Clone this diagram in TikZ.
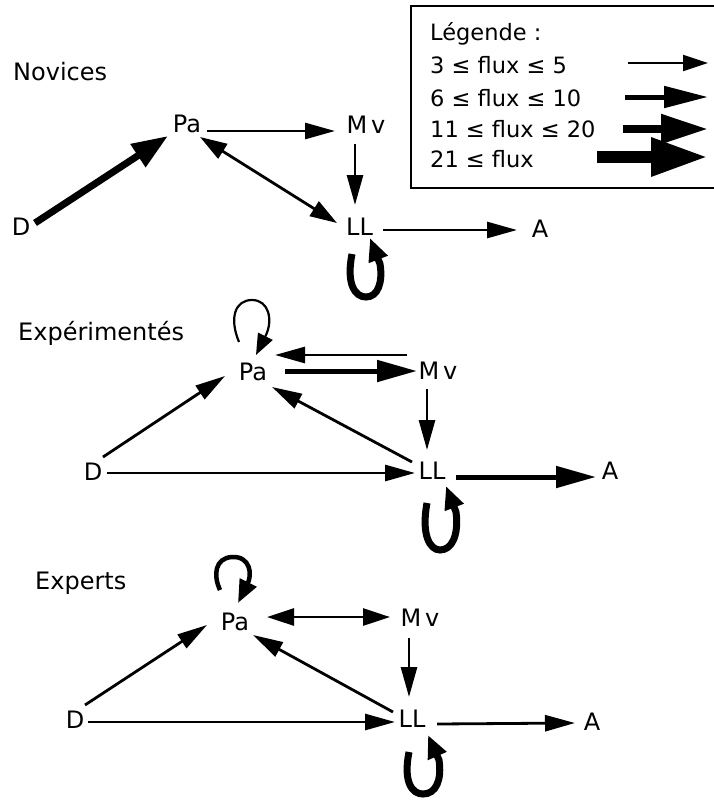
\documentclass[tikz,border=0pt]{standalone}
\usepackage{fontspec}
\setmainfont{DejaVu Sans}
\usetikzlibrary{arrows.meta,calc}
\begin{document}
\begin{tikzpicture}[x=1pt,y=-1pt,
  lbl/.style={inner sep=0pt,anchor=west,font=\fontsize{24}{28}\selectfont},
  nd/.style={inner sep=0pt,font=\fontsize{24}{28}\selectfont},
  leg/.style={inner sep=0pt,anchor=west,font=\fontsize{22.5}{27}\selectfont},
  aone/.style={line width=2.8pt,-{Triangle[length=30pt,width=16pt]}},
  abone/.style={line width=2.8pt,{Triangle[length=27pt,width=17pt]}-{Triangle[length=27pt,width=17pt]}},
  atwo/.style={line width=5pt,-{Triangle[length=40pt,width=21pt]}},
  athree/.style={line width=7pt,-{Triangle[length=36pt,width=26pt]}},
  loopthick/.style={line width=7pt,line cap=butt,-{Triangle[length=23pt,width=19pt]}},
  loopmid/.style={line width=4.5pt,-{Triangle[length=23pt,width=18pt]}},
  loopthin/.style={line width=2.2pt,-{Triangle[length=21pt,width=16pt]}},
  legone/.style={line width=2.2pt,-{Triangle[length=25pt,width=16pt]}},
  legtwo/.style={line width=5pt,-{Triangle[length=44pt,width=21pt]}},
  legthree/.style={line width=8pt,-{Triangle[length=47pt,width=28pt]}},
  legfour/.style={line width=12pt,-{Triangle[length=57pt,width=36pt]}}
]
\useasboundingbox (0,0) rectangle (713,800);
\fill[white] (0,0) rectangle (713,800);

% ---------- Legend ----------
\draw[line width=2pt] (714,6) -- (411,6) -- (411,188) -- (714,188);
\node[leg] (lg0) at (430,34) {Légende :};
\node[leg] (lg1) at (430,65) {3 ≤ flux ≤ 5};
\node[leg] (lg2) at (430,98) {6 ≤ flux ≤ 10};
\node[leg] (lg3) at (430,129) {11 ≤ flux ≤ 20};
\node[leg] (lg4) at (430,159) {21 ≤ flux};
\draw[legone] (628,63) -- (708,63);
\draw[legtwo] (625,97) -- (708,97);
\draw[legthree] (623,129) -- (708,129);
\draw[legfour] (597,157) -- (708,157);

% ---------- Novices ----------
\node[lbl] (labN) at (13,71.5) {Novices};
\node[nd] (paN) at (187,124) {Pa};
\node[nd] (mvN) at (366,125) {M\kern4pt v};
\node[nd] (dN) at (21,227) {D};
\node[nd] (llN) at (359.5,227) {LL};
\node[nd] (aN) at (540,229) {A};
\draw[athree] ($(dN)+(14,-4)$) -- ($(paN)+(-19,12)$);
\draw[aone] ($(paN)+(20,7)$) -- ($(mvN)+(-31,6)$);
\draw[abone] ($(paN)+(13,13)$) -- ($(llN)+(-22.5,-4)$);
\draw[aone] ($(mvN)+(-11,19)$) -- ($(llN)+(-4.5,-22)$);
\draw[aone] ($(llN)+(23.5,3)$) -- ($(aN)+(-23,1)$);
\begin{scope}[shift={(llN)}]
\draw[loopthick] (-7.5,27) .. controls (-13.5,57) and (-4.5,70) .. (6.5,70)
  .. controls (18.5,70) and (23.5,55) .. (20.5,37) -- (10.5,11);
\end{scope}

% ---------- Expérimentés ----------
\node[lbl] (labE) at (18,333) {Expérimentés};
\node[nd] (paE) at (253,372) {Pa};
\node[nd] (mvE) at (438,371) {M\kern4pt v};
\node[nd] (dE) at (93,472) {D};
\node[nd] (llE) at (432,471) {LL};
\node[nd] (aE) at (610,471) {A};
\begin{scope}[shift={(paE)}]
\draw[loopthin] (-14,-30) .. controls (-24,-54) and (-18,-72) .. (-1,-72)
  .. controls (16,-72) and (20,-52) .. (13,-37) -- (3,-17);
\end{scope}
\draw[aone] ($(mvE)+(-31,-16)$) -- ($(paE)+(22,-17)$);
\draw[atwo] ($(paE)+(32,-1)$) -- ($(mvE)+(-21,0)$);
\draw[aone] ($(dE)+(10,-15)$) -- ($(paE)+(-28,4)$);
\draw[aone] ($(llE)+(-20,-9)$) -- ($(paE)+(19,15)$);
\draw[aone] ($(dE)+(14,1)$) -- ($(llE)+(-17,2)$);
\draw[aone] ($(mvE)+(-11,18)$) -- ($(llE)+(-5,-21)$);
\draw[atwo] ($(llE)+(24,6)$) -- ($(aE)+(-14,6)$);
\begin{scope}[shift={(llE)}]
\draw[loopthick] (-5,32) .. controls (-11,64) and (-2,79) .. (8,79)
  .. controls (20,79) and (27,64) .. (24,41) -- (14,15);
\end{scope}

% ---------- Experts ----------
\node[lbl] (labX) at (35,583) {Experts};
\node[nd] (paX) at (235,622) {Pa};
\node[nd] (mvX) at (420,618) {M\kern4pt v};
\node[nd] (dX) at (75,720) {D};
\node[nd] (llX) at (412,719) {LL};
\node[nd] (aX) at (592,722) {A};
\begin{scope}[shift={(paX)}]
\draw[loopmid] (-15,-32) .. controls (-22,-47) and (-20,-64) .. (-3,-65)
  .. controls (15,-66) and (18,-48) .. (12,-37) -- (3,-19);
\end{scope}
\draw[abone] ($(paX)+(32,-5)$) -- ($(mvX)+(-30,-1)$);
\draw[aone] ($(mvX)+(-11,20)$) -- ($(llX)+(-3,-22)$);
\draw[aone] ($(llX)+(25,5)$) -- ($(aX)+(-17,1)$);
\draw[aone] ($(dX)+(13,2)$) -- ($(llX)+(-17,3)$);
\draw[aone] ($(dX)+(10,-15)$) -- ($(paX)+(-28,3)$);
\draw[aone] ($(llX)+(-19,-7)$) -- ($(paX)+(18,13)$);
\begin{scope}[shift={(llX)}]
\draw[loopthick] (-3,33) .. controls (-9,63) and (0,75) .. (11,75)
  .. controls (24,75) and (30,61) .. (27,41) -- (16,16);
\end{scope}
\end{tikzpicture}
\end{document}
